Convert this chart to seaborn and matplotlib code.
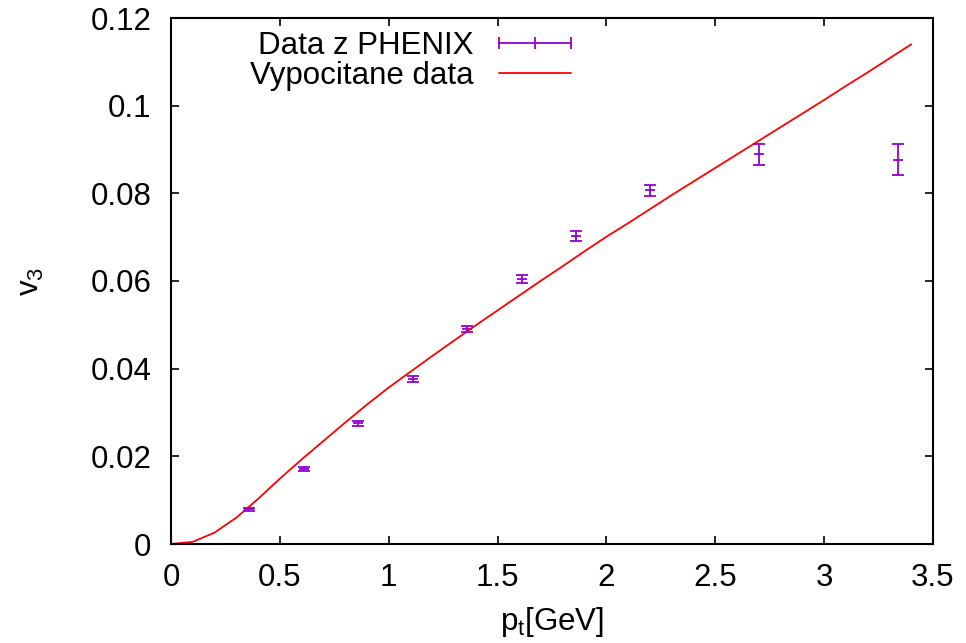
"""v3 vs pt: PHENIX data with error bars and the computed curve."""

import matplotlib

matplotlib.use("Agg")
import matplotlib.pyplot as plt
import pandas as pd
import seaborn as sns
from matplotlib.lines import Line2D

# PHENIX points (pt, v3, error)
data_pt = [0.36, 0.61, 0.86, 1.11, 1.36, 1.61, 1.86, 2.20, 2.70, 3.34]
data_v3 = [0.0079, 0.0171, 0.0275, 0.0376, 0.0490, 0.0605, 0.0703, 0.0807, 0.0889, 0.0877]
data_err = [0.0004, 0.0005, 0.0005, 0.0007, 0.0007, 0.0009, 0.0011, 0.0013, 0.0024, 0.0036]

# computed curve
calc_pt = [0.0, 0.1, 0.2, 0.3, 0.4, 0.5, 0.6, 0.7, 0.8, 0.9, 1.0, 1.1, 1.2, 1.3, 1.4,
           1.5, 1.6, 1.7, 1.8, 1.9, 2.0, 2.1, 2.2, 2.3, 2.4, 2.5, 2.6, 2.7, 2.8, 2.9,
           3.0, 3.1, 3.2, 3.3, 3.4]
calc_v3 = [0.0, 0.0005, 0.0026, 0.0060, 0.0103, 0.0149, 0.0193, 0.0235, 0.0277, 0.0318,
           0.0357, 0.0393, 0.0429, 0.0464, 0.0499, 0.0533, 0.0567, 0.0601, 0.0634, 0.0668,
           0.0701, 0.0732, 0.0764, 0.0796, 0.0827, 0.0858, 0.0889, 0.0920, 0.0951, 0.0982,
           0.1013, 0.1045, 0.1076, 0.1108, 0.1140]

PURPLE = "#9400d3"
RED = "#ff0000"

sns.set_theme(style="ticks")
plt.rcParams["font.family"] = ["Liberation Sans", "DejaVu Sans"]
plt.rcParams["mathtext.fontset"] = "custom"
plt.rcParams["mathtext.rm"] = "Liberation Sans"
plt.rcParams["mathtext.it"] = "Liberation Sans"
plt.rcParams["text.color"] = "black"
plt.rcParams["axes.labelcolor"] = "black"

data_df = pd.DataFrame({"pt": data_pt, "v3": data_v3, "err": data_err})
calc_df = pd.DataFrame({"pt": calc_pt, "v3": calc_v3})

fig = plt.figure(figsize=(9.66, 6.43), dpi=100)
ax = fig.add_axes([171 / 966, 99 / 643, 762 / 966, 526 / 643])

sns.lineplot(data=calc_df, x="pt", y="v3", color=RED, lw=1.3, ax=ax)
ax.errorbar(data_df["pt"], data_df["v3"], yerr=data_df["err"], fmt="none",
            ecolor=PURPLE, elinewidth=1.3, capsize=4.5, capthick=1.3)
sns.scatterplot(data=data_df, x="pt", y="v3", marker="_", s=60, color=PURPLE,
                linewidth=1.3, ax=ax)

ax.set_xlim(0, 3.5)
ax.set_ylim(0, 0.12)
ax.set_xticks([0, 0.5, 1, 1.5, 2, 2.5, 3, 3.5])
ax.set_xticklabels(["0", "0.5", "1", "1.5", "2", "2.5", "3", "3.5"])
ax.set_yticks([0, 0.02, 0.04, 0.06, 0.08, 0.1, 0.12])
ax.set_yticklabels(["0", "0.02", "0.04", "0.06", "0.08", "0.1", "0.12"])
ax.tick_params(axis="both", direction="in", length=6, width=1.2, labelsize=22.5,
               top=True, right=True, colors="black")
ax.tick_params(axis="x", pad=14)
ax.tick_params(axis="y", pad=14)
for sp in ax.spines.values():
    sp.set_visible(True)
    sp.set_linewidth(1.5)
    sp.set_color("black")

ax.set_xlabel(r"p$_\mathregular{t}$[GeV]", fontsize=22.5, labelpad=8)
ax.set_ylabel(r"v$_\mathregular{3}$", fontsize=22.5, labelpad=32)

handles = [
    Line2D([], [], color=PURPLE, lw=1.3, marker="|", ms=9, mew=1.3),
    Line2D([], [], color=RED, lw=1.3),
]
leg = ax.legend(handles, ["Data z PHENIX", "Vypocitane data"], loc="upper left",
                bbox_to_anchor=(0.104, 0.975), borderaxespad=0, borderpad=0,
                frameon=False, fontsize=22.5, markerfirst=False, numpoints=3,
                handlelength=2.9, handletextpad=0.5, labelspacing=0.0)
for t in leg.get_texts():
    t.set_color("black")

fig.savefig("out.png", dpi=100)
